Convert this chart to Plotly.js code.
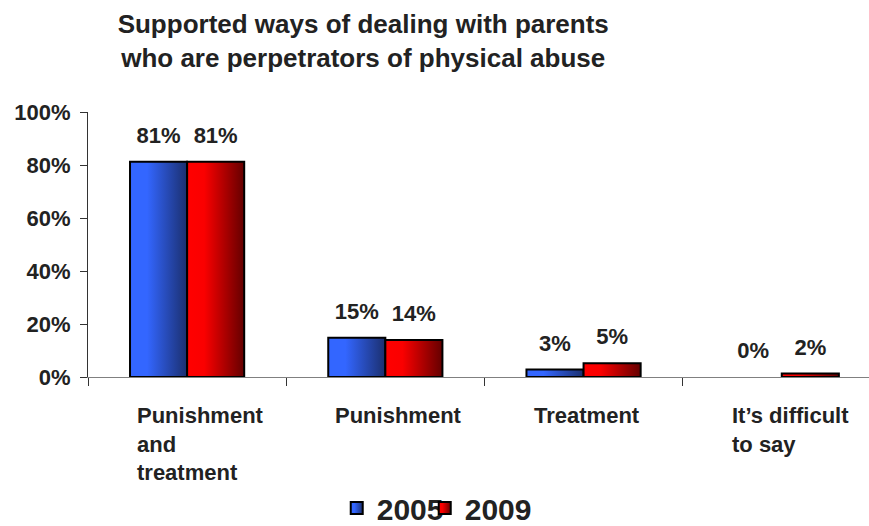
<!DOCTYPE html>
<html><head><meta charset="utf-8">
<script src="https://cdn.plot.ly/plotly-3.0.1.min.js"></script>
<style>html,body{margin:0;padding:0;background:#fff}#chart{width:869px;height:526px}</style>
</head><body><div id="chart"></div>
<script>
// ---- data ----
const categories = ["Punishment and treatment", "Punishment", "Treatment", "It’s difficult to say"];
const categoryLabels = ["Punishment<br>and<br>treatment", "Punishment", "Treatment", "It’s difficult<br>to say"];
const seriesNames = ["2005", "2009"];
const values2005 = [81.2, 14.8, 2.8, 0];
const values2009 = [81.2, 14.0, 5.2, 1.3];
const labels2005 = ["81%", "15%", "3%", "0%"];
const labels2009 = ["81%", "14%", "5%", "2%"];
const yTickVals = [0, 20, 40, 60, 80, 100];
const yTickText = ["0%", "20%", "40%", "60%", "80%", "100%"];
const titleText = "Supported ways of dealing with parents<br>who are perpetrators of physical abuse";

// ---- styles ----
const FONT = "Liberation Sans, Arial, Helvetica, sans-serif";
const TXT = "#222222";
const colors = ["#2b55e0", "#c00000"];
const grads = [
  {id: "grad2005", stops: [[0, "#3366ff"], [0.3, "#3366ff"], [1, "#1b2f6e"]]},
  {id: "grad2009", stops: [[0, "#ff0000"], [0.3, "#fa0000"], [1, "#640000"]]}
];
const BARGAP = 0.424;

const seriesValues = [values2005, values2009];
const seriesLabels = [labels2005, labels2009];

const barTraces = seriesNames.map((n, i) => ({
  type: "bar", name: n, x: categories, y: seriesValues[i],
  marker: {color: colors[i], line: {color: "#000000", width: seriesValues[i].map(v => (v > 0 ? 2 : 0))}},
  textposition: "none", hoverinfo: "skip"
}));
const textTraces = seriesNames.map((n, i) => ({
  type: "scatter", mode: "markers+text", name: n + " labels", x: categories, y: seriesValues[i],
  text: seriesLabels[i], textposition: "top center",
  textfont: {family: FONT, size: 22, color: TXT, weight: "bold"},
  marker: {size: 20, opacity: 0, color: colors[i]},
  showlegend: false, hoverinfo: "skip", cliponaxis: false
}));

const annotations = categories.map((c, i) => ({
  xref: "x", yref: "paper", x: c, y: -0.089, xanchor: "left", yanchor: "top", align: "left",
  xshift: -52, showarrow: false, text: categoryLabels[i],
  font: {family: FONT, size: 22, color: TXT, weight: "bold"}
}));

const layout = {
  width: 869, height: 526,
  margin: {l: 88, r: 0, t: 112, b: 149, pad: 0, autoexpand: false},
  paper_bgcolor: "#ffffff", plot_bgcolor: "#ffffff",
  font: {family: FONT, size: 22, color: TXT, weight: "bold"},
  title: {
    text: titleText, xref: "container", x: 0.418, xanchor: "center",
    yref: "container", y: 0.937, yanchor: "middle",
    font: {family: FONT, size: 26, color: TXT, weight: "bold"}
  },
  barmode: "group", bargap: BARGAP, bargroupgap: 0,
  scattermode: "group", scattergap: BARGAP,
  showlegend: true,
  legend: {
    orientation: "h", xref: "container", x: 0.3875, xanchor: "left",
    yref: "container", y: 0.034, yanchor: "middle",
    font: {family: FONT, size: 30, color: TXT, weight: "bold"},
    entrywidth: 43, entrywidthmode: "pixels", itemsizing: "constant",
    bgcolor: "rgba(0,0,0,0)", borderwidth: 0
  },
  xaxis: {
    type: "category", range: [-0.5, 3.44], fixedrange: true,
    showline: true, linecolor: "#808080", linewidth: 1,
    ticks: "outside", ticklen: 8, tickcolor: "#333333", tickwidth: 1, tickson: "boundaries",
    showticklabels: false, showgrid: false, zeroline: false
  },
  yaxis: {
    range: [0, 100], fixedrange: true,
    tickvals: yTickVals, ticktext: yTickText,
    showline: true, linecolor: "#333333", linewidth: 1,
    ticks: "outside", ticklen: 7, tickcolor: "#333333", tickwidth: 1,
    ticklabelstandoff: 5,
    tickfont: {family: FONT, size: 22, color: TXT, weight: "bold"},
    showgrid: false, zeroline: false
  },
  annotations: annotations
};

function applyGradients(gd) {
  const svg = gd.querySelector("svg.main-svg");
  const defs = svg.querySelector("defs");
  const ns = "http://www.w3.org/2000/svg";
  grads.forEach(g => {
    const lg = document.createElementNS(ns, "linearGradient");
    lg.setAttribute("id", g.id);
    lg.setAttribute("x1", "0"); lg.setAttribute("y1", "0");
    lg.setAttribute("x2", "1"); lg.setAttribute("y2", "0");
    g.stops.forEach(s => {
      const st = document.createElementNS(ns, "stop");
      st.setAttribute("offset", s[0]);
      st.setAttribute("stop-color", s[1]);
      lg.appendChild(st);
    });
    defs.appendChild(lg);
  });
  gd.querySelectorAll(".barlayer .trace").forEach((tr, i) => {
    tr.querySelectorAll("path").forEach(p => { p.style.fill = "url(#" + grads[i].id + ")"; });
  });
  gd.querySelectorAll(".legend .traces").forEach((tr, i) => {
    if (!grads[i]) return;
    tr.querySelectorAll("path.legendbar, .legendpoints path").forEach(p => {
      p.style.fill = "url(#" + grads[i].id + ")";
      p.style.stroke = "#000000";
      p.style.strokeWidth = "2px";
    });
  });
  // let the tightly spaced legend entries show in full
  gd.querySelectorAll(".legend [clip-path]").forEach(el => el.removeAttribute("clip-path"));
}

Plotly.newPlot("chart", barTraces.concat(textTraces), layout, {displayModeBar: false, staticPlot: true})
  .then(gd => applyGradients(gd));
</script>
</body></html>
